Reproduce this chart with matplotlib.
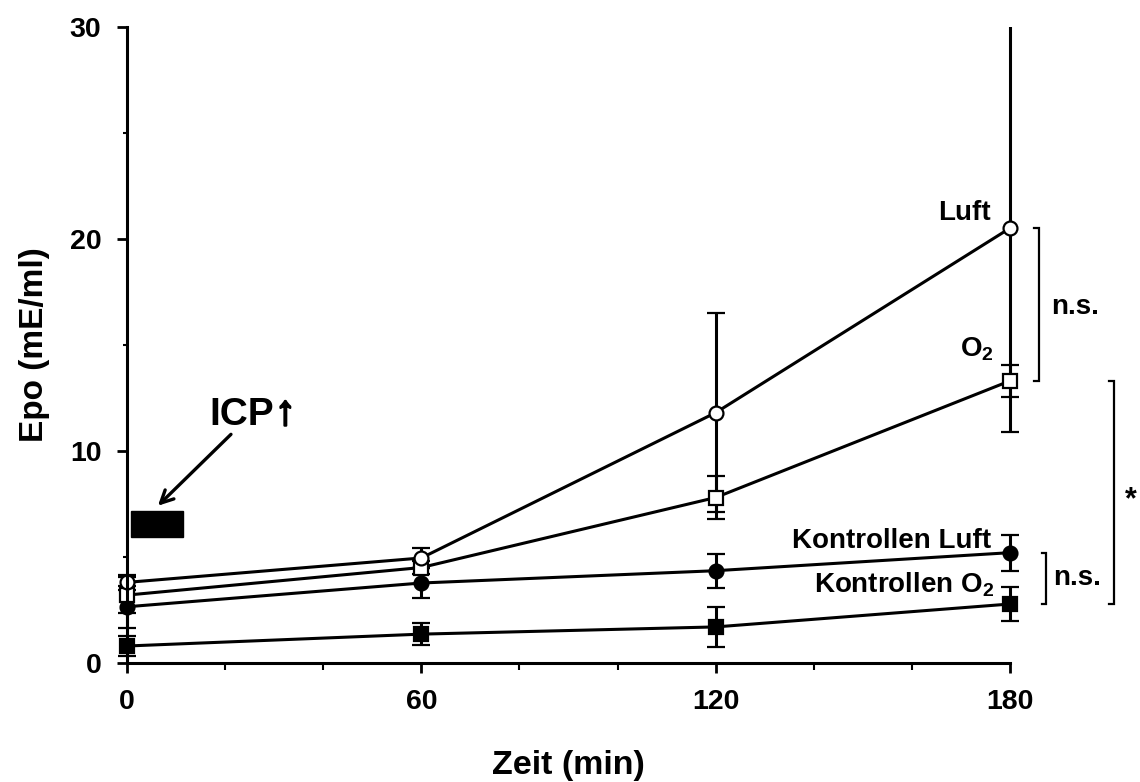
import matplotlib
matplotlib.use("Agg")
import matplotlib.pyplot as plt
import matplotlib.patheffects as pe
from matplotlib.patches import Rectangle
from matplotlib.ticker import MultipleLocator
from matplotlib.transforms import Bbox, TransformedBbox

plt.rcParams['font.family'] = ['Liberation Sans', 'DejaVu Sans']
plt.rcParams['font.weight'] = 'bold'
plt.rcParams['mathtext.fontset'] = 'custom'
plt.rcParams['mathtext.rm'] = 'Liberation Sans:bold'
plt.rcParams['mathtext.bf'] = 'Liberation Sans:bold'
plt.rcParams['mathtext.default'] = 'rm'

# ---- data ----
time_min = [0, 60, 120, 180]
luft = [3.8, 4.95, 11.8, 20.5]
luft_err = [0.35, 0.45, 4.7, 9.6]
o2 = [3.2, 4.5, 7.8, 13.3]
o2_err = [0.85, 0.3, 1.0, 0.75]
ktrl_luft = [2.65, 3.77, 4.35, 5.2]
ktrl_luft_err = [1.0, 0.7, 0.8, 0.85]
ktrl_o2 = [0.8, 1.36, 1.7, 2.78]
ktrl_o2_err = [0.47, 0.53, 0.95, 0.8]

x_ticks = [0, 60, 120, 180]
y_ticks = [0, 10, 20, 30]
icp_span = [0.8, 11.4]     # minutes
icp_level = [5.95, 7.15]   # box height in mE/ml

fig = plt.figure(figsize=(11.4, 7.82), dpi=100)
ax = fig.add_axes([0.1114, 0.1522, 0.7746, 0.8138])
ax.set_xlim(0, 180)
ax.set_ylim(0, 30)

# clip only at the top of the plotting area, let markers overhang sideways / below
clip_box = TransformedBbox(Bbox.from_extents(-30, -5, 210, 30), ax.transData)

lw = 2.2
common = dict(color='black', lw=lw, capsize=6.5, capthick=lw, elinewidth=lw,
              markersize=10, markeredgewidth=1.6, markeredgecolor='black')

for yv, ev, mk, fc in [(ktrl_o2, ktrl_o2_err, 's', 'black'),
                       (ktrl_luft, ktrl_luft_err, 'o', 'black'),
                       (o2, o2_err, 's', 'white'),
                       (luft, luft_err, 'o', 'white')]:
    cont = ax.errorbar(time_min, yv, yerr=ev, marker=mk, markerfacecolor=fc, **common)
    for art in cont.get_children():
        art.set_clip_on(True)
        art.set_clip_box(clip_box)
        art.set_clip_path(None)

ax.set_xticks(x_ticks)
ax.set_xticklabels([str(v) for v in x_ticks])
ax.set_yticks(y_ticks)
ax.set_yticklabels([str(v) for v in y_ticks])
ax.xaxis.set_minor_locator(MultipleLocator(20))
ax.yaxis.set_minor_locator(MultipleLocator(5))
ax.tick_params(axis='x', which='major', direction='out', length=7, width=2, labelsize=20.5, pad=12)
ax.tick_params(axis='x', which='minor', direction='out', length=5, width=1.5)
ax.tick_params(axis='y', which='major', direction='out', length=7, width=2, labelsize=20.5, pad=11.5)
ax.tick_params(axis='y', which='minor', direction='out', length=3, width=1.5)
for lab in ax.get_xticklabels() + ax.get_yticklabels():
    lab.set_fontweight('bold')

for s in ['top', 'right']:
    ax.spines[s].set_visible(False)
for s in ['left', 'bottom']:
    ax.spines[s].set_linewidth(2.2)

ax.set_xlabel('Zeit (min)', fontsize=24.5, fontweight='bold', labelpad=25)
ax.set_ylabel('Epo (mE/ml)', fontsize=24, fontweight='bold', labelpad=14)

# ICP box and arrow
ax.add_patch(Rectangle((icp_span[0], icp_level[0]), icp_span[1] - icp_span[0],
                       icp_level[1] - icp_level[0], facecolor='black', edgecolor='black', zorder=5))
icp_txt = ax.text(16.7, 11.2, 'ICP', fontsize=28, fontweight='bold', ha='left', va='baseline')
ax.annotate('\u2191', xy=(1, 0), xycoords=icp_txt, xytext=(1, 0), textcoords='offset points',
            fontsize=30, fontweight='bold', ha='left', va='bottom',
            path_effects=[pe.withStroke(linewidth=1.6, foreground='black')])
ax.annotate('', xy=(5.9, 7.32), xytext=(21.6, 10.87),
            arrowprops=dict(arrowstyle='->,head_length=0.9,head_width=0.45', lw=2.4, color='black'))

# series labels
lab_fs = 20
ax.text(176.1, 20.9, 'Luft', fontsize=lab_fs, fontweight='bold', ha='right', va='baseline')
ax.text(176.8, 14.45, r'O$_2$', fontsize=lab_fs, fontweight='bold', ha='right', va='baseline')
ax.text(176.1, 5.43, 'Kontrollen Luft', fontsize=lab_fs, fontweight='bold', ha='right', va='baseline')
ax.text(176.8, 3.3, r'Kontrollen O$_2$', fontsize=lab_fs, fontweight='bold', ha='right', va='baseline')

# significance brackets
def bracket(x, y0, y1, tick=1.1):
    ax.plot([x - tick, x, x, x - tick], [y1, y1, y0, y0], color='black', lw=1.6,
            clip_on=False, solid_joinstyle='miter')

bracket(185.9, o2[-1], luft[-1])
bracket(201.2, ktrl_o2[-1], o2[-1])
bracket(187.4, ktrl_o2[-1], ktrl_luft[-1], tick=0.8)
ax.text(188.4, 16.45, 'n.s.', fontsize=20, fontweight='bold', ha='left', va='baseline', clip_on=False)
ax.text(188.8, 3.66, 'n.s.', fontsize=20, fontweight='bold', ha='left', va='baseline', clip_on=False)
ax.text(204.7, 7.3, '*', fontsize=22, fontweight='bold', ha='center', va='baseline', clip_on=False)

fig.savefig('out.png', dpi=100)
